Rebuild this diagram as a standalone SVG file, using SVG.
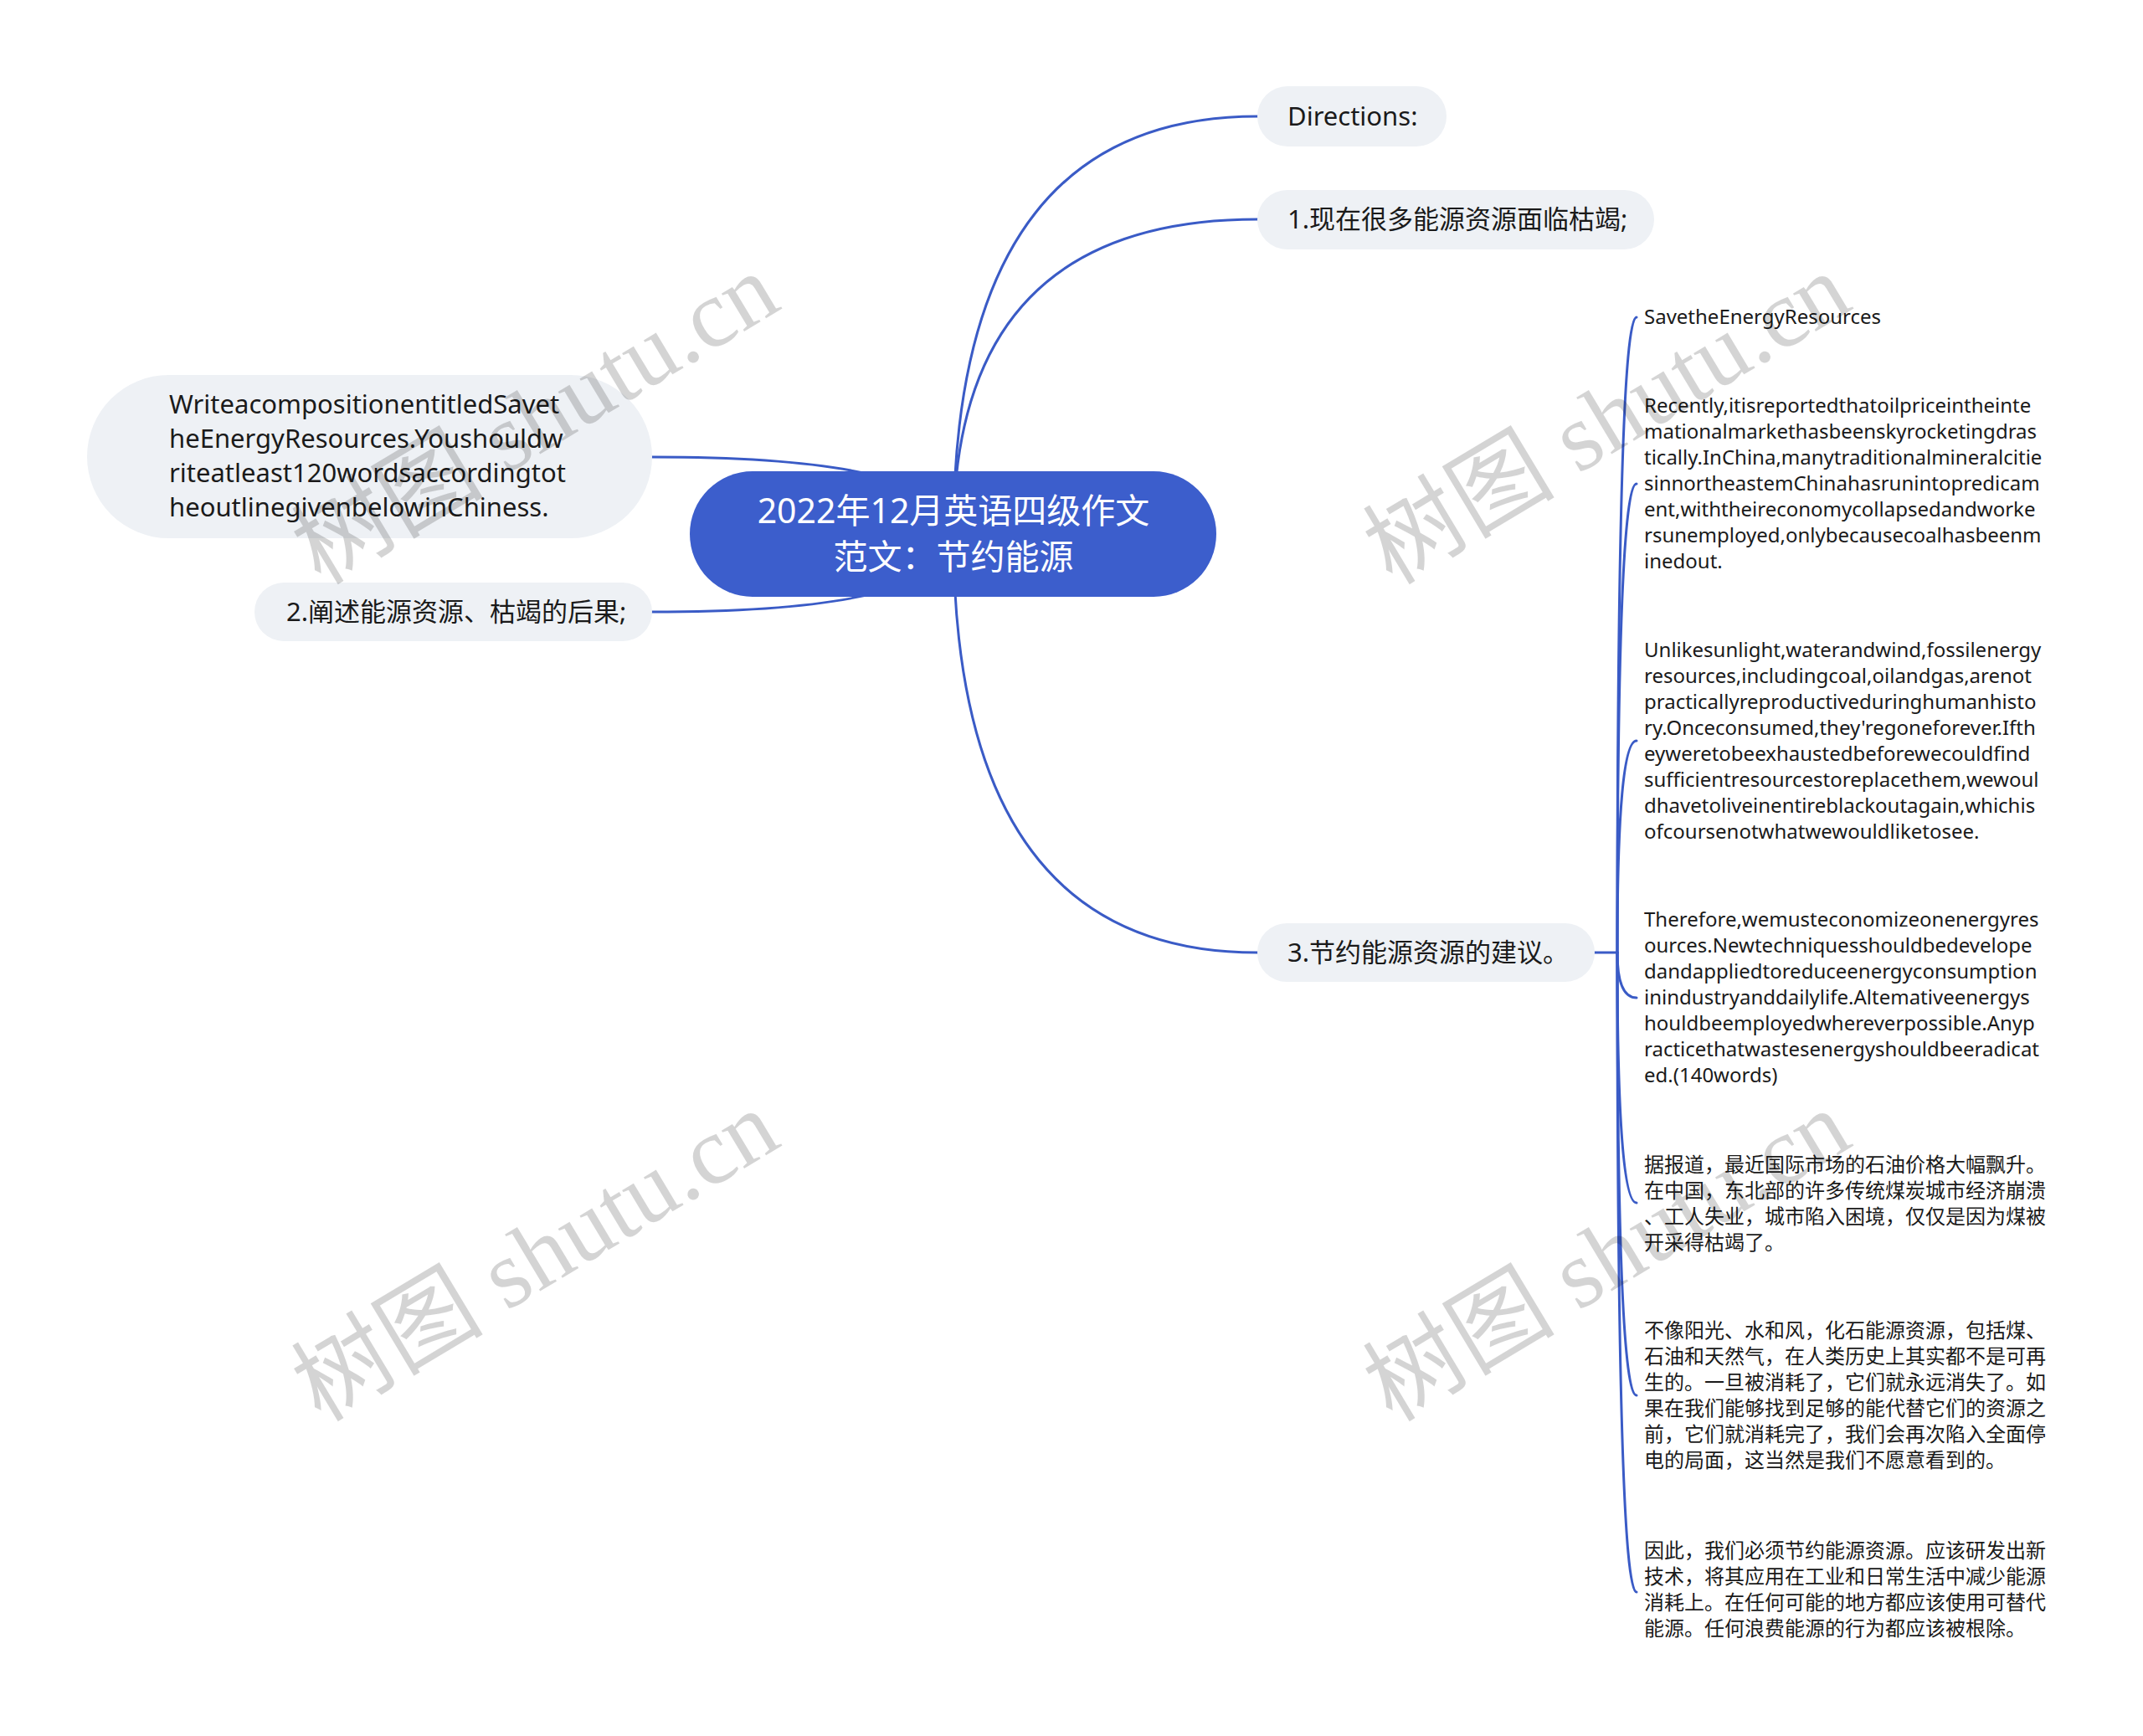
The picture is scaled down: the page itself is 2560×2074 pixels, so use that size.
<svg xmlns="http://www.w3.org/2000/svg" width="2560" height="2074" viewBox="0 0 2560 2074">
<style>
.bg{fill:#ffffff}
.pill{fill:#eef1f5}
.root{fill:#3c5ecc}
.t{font-family:"Noto Sans","Noto Sans CJK SC",sans-serif;fill:#1a1a1a}
.big{font-size:31px}
.small{font-size:24px}
.rt{font-family:"Noto Sans","Noto Sans CJK SC",sans-serif;fill:#ffffff;font-size:41px}
.c{fill:none;stroke:#3a5bc6;stroke-width:3;stroke-linecap:round}
.wm{font-family:"Liberation Serif","Noto Sans CJK SC",serif;font-size:115px;fill:#000;fill-opacity:0.17}
</style>
<rect class="bg" x="0" y="0" width="2560" height="2074"/>
<g id="connectors">
<path class="c" d="M1139 638 Q1139 139 1502 139"/>
<path class="c" d="M1139 638 Q1139 262 1502 262"/>
<path class="c" d="M1139 638 Q1139 1138 1502 1138"/>
<path class="c" d="M1139 638 Q1139 546 779 546"/>
<path class="c" d="M1139 638 Q1139 731 779 731"/>
<path class="c" d="M1905 1138 L1932 1138"/>
<path class="c" d="M1932 1138 Q1932 379 1955 379"/>
<path class="c" d="M1932 1138 Q1932 578 1955 578"/>
<path class="c" d="M1932 1138 Q1932 885 1955 885"/>
<path class="c" d="M1932 1138 Q1932 1192 1955 1192"/>
<path class="c" d="M1932 1138 Q1932 1437 1955 1437"/>
<path class="c" d="M1932 1138 Q1932 1667 1955 1667"/>
<path class="c" d="M1932 1138 Q1932 1902 1955 1902"/>
</g>
<g id="root">
<rect class="root" x="824" y="563" width="629" height="150" rx="75"/>
<text class="rt" text-anchor="middle"><tspan x="1139" y="625">2022年12月英语四级作文</tspan><tspan x="1139" y="680">范文：节约能源</tspan></text>
</g>
<g id="n-directions">
<rect class="pill" x="1502" y="103" width="226" height="72" rx="36"/>
<text class="t big" x="1538" y="150">Directions:</text>
</g>
<g id="n-1">
<rect class="pill" x="1502" y="227" width="474" height="71" rx="35.5"/>
<text class="t big" x="1538" y="273">1.现在很多能源资源面临枯竭;</text>
</g>
<g id="n-3">
<rect class="pill" x="1502" y="1103" width="403" height="70" rx="35"/>
<text class="t big" x="1538" y="1149">3.节约能源资源的建议。</text>
</g>
<g id="n-write">
<rect class="pill" x="104" y="448" width="675" height="195" rx="97.5"/>
<text class="t big"><tspan x="202" y="494">WriteacompositionentitledSavet</tspan><tspan x="202" y="535">heEnergyResources.Youshouldw</tspan><tspan x="202" y="576">riteatleast120wordsaccordingtot</tspan><tspan x="202" y="617">heoutlinegivenbelowinChiness.</tspan></text>
</g>
<g id="n-2">
<rect class="pill" x="304" y="696" width="475" height="70" rx="35"/>
<text class="t big" x="342" y="742">2.阐述能源资源、枯竭的后果;</text>
</g>
<g id="n-save">
<text class="t small" x="1964" y="387">SavetheEnergyResources</text>
</g>
<g id="n-recently">
<text class="t small"><tspan x="1964" y="493">Recently,itisreportedthatoilpriceintheinte</tspan><tspan x="1964" y="524">mationalmarkethasbeenskyrocketingdras</tspan><tspan x="1964" y="555">tically.InChina,manytraditionalmineralcitie</tspan><tspan x="1964" y="586">sinnortheastemChinahasrunintopredicam</tspan><tspan x="1964" y="617">ent,withtheireconomycollapsedandworke</tspan><tspan x="1964" y="648">rsunemployed,onlybecausecoalhasbeenm</tspan><tspan x="1964" y="679">inedout.</tspan></text>
</g>
<g id="n-unlike">
<text class="t small"><tspan x="1964" y="785">Unlikesunlight,waterandwind,fossilenergy</tspan><tspan x="1964" y="816">resources,includingcoal,oilandgas,arenot</tspan><tspan x="1964" y="847">practicallyreproductiveduringhumanhisto</tspan><tspan x="1964" y="878">ry.Onceconsumed,they'regoneforever.Ifth</tspan><tspan x="1964" y="909">eyweretobeexhaustedbeforewecouldfind</tspan><tspan x="1964" y="940">sufficientresourcestoreplacethem,wewoul</tspan><tspan x="1964" y="971">dhavetoliveinentireblackoutagain,whichis</tspan><tspan x="1964" y="1002">ofcoursenotwhatwewouldliketosee.</tspan></text>
</g>
<g id="n-therefore">
<text class="t small"><tspan x="1964" y="1107">Therefore,wemusteconomizeonenergyres</tspan><tspan x="1964" y="1138">ources.Newtechniquesshouldbedevelope</tspan><tspan x="1964" y="1169">dandappliedtoreduceenergyconsumption</tspan><tspan x="1964" y="1200">inindustryanddailylife.Altemativeenergys</tspan><tspan x="1964" y="1231">houldbeemployedwhereverpossible.Anyp</tspan><tspan x="1964" y="1262">racticethatwastesenergyshouldbeeradicat</tspan><tspan x="1964" y="1293">ed.(140words)</tspan></text>
</g>
<g id="n-cn1">
<text class="t small"><tspan x="1964" y="1400">据报道，最近国际市场的石油价格大幅飘升。</tspan><tspan x="1964" y="1431">在中国，东北部的许多传统煤炭城市经济崩溃</tspan><tspan x="1964" y="1462">、工人失业，城市陷入困境，仅仅是因为煤被</tspan><tspan x="1964" y="1493">开采得枯竭了。</tspan></text>
</g>
<g id="n-cn2">
<text class="t small"><tspan x="1964" y="1598">不像阳光、水和风，化石能源资源，包括煤、</tspan><tspan x="1964" y="1629">石油和天然气，在人类历史上其实都不是可再</tspan><tspan x="1964" y="1660">生的。一旦被消耗了，它们就永远消失了。如</tspan><tspan x="1964" y="1691">果在我们能够找到足够的能代替它们的资源之</tspan><tspan x="1964" y="1722">前，它们就消耗完了，我们会再次陷入全面停</tspan><tspan x="1964" y="1753">电的局面，这当然是我们不愿意看到的。</tspan></text>
</g>
<g id="n-cn3">
<text class="t small"><tspan x="1964" y="1861">因此，我们必须节约能源资源。应该研发出新</tspan><tspan x="1964" y="1892">技术，将其应用在工业和日常生活中减少能源</tspan><tspan x="1964" y="1923">消耗上。在任何可能的地方都应该使用可替代</tspan><tspan x="1964" y="1954">能源。任何浪费能源的行为都应该被根除。</tspan></text>
</g>
<g id="watermarks">
<text class="wm" transform="translate(383 700) rotate(-31)">树图 shutu.cn</text>
<text class="wm" transform="translate(1663 700) rotate(-31)">树图 shutu.cn</text>
<text class="wm" transform="translate(383 1700) rotate(-31)">树图 shutu.cn</text>
<text class="wm" transform="translate(1663 1700) rotate(-31)">树图 shutu.cn</text>
</g>
</svg>
